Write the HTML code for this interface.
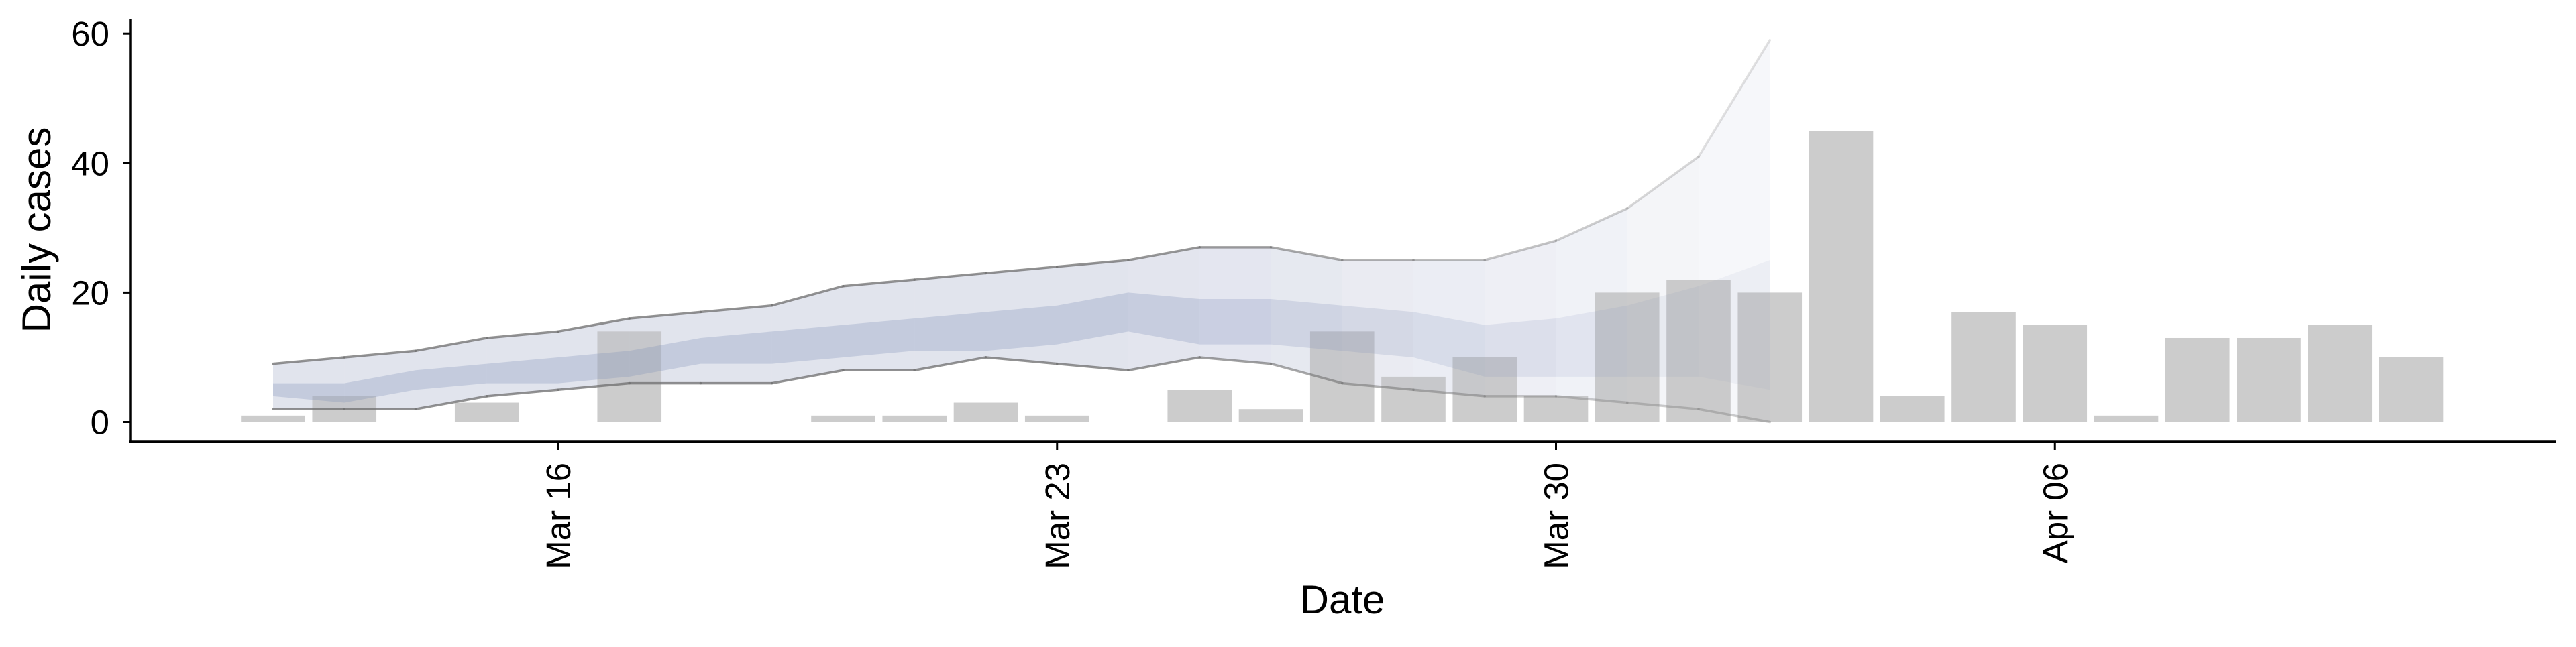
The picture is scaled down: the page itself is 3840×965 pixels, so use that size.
<!DOCTYPE html>
<html><head><meta charset="utf-8"><style>
html,body{margin:0;padding:0;background:#fff;}
svg text{font-family:"Liberation Sans",Arial,sans-serif;fill:#000;}
</style></head><body>
<svg id="chart" width="3840" height="960" viewBox="0 0 3840 960" xmlns="http://www.w3.org/2000/svg">
<g id="bands"></g>
<g id="bars"></g>
<g id="overlay"></g>
<g id="axes"></g>
</svg>
<script>
const barDates = ["Mar 12","Mar 13","Mar 14","Mar 15","Mar 16","Mar 17","Mar 18","Mar 19","Mar 20","Mar 21","Mar 22","Mar 23","Mar 24","Mar 25","Mar 26","Mar 27","Mar 28","Mar 29","Mar 30","Mar 31","Apr 01","Apr 02","Apr 03","Apr 04","Apr 05","Apr 06","Apr 07","Apr 08","Apr 09","Apr 10","Apr 11"];
const dailyCases = [1,4,0,3,0,14,0,0,1,1,3,1,0,5,2,14,7,10,4,20,22,20,45,4,17,15,1,13,13,15,10];
const outerUpper = [9,10,11,13,14,16,17,18,21,22,23,24,25,27,27,25,25,25,28,33,41,59];
const outerLower = [2,2,2,4,5,6,6,6,8,8,10,9,8,10,9,6,5,4,4,3,2,0];
const innerUpper = [6,6,8,9,10,11,13,14,15,16,17,18,20,19,19,18,17,15,16,18,21,25];
const innerLower = [4,3,5,6,6,7,9,9,10,11,11,12,14,12,12,11,10,7,7,7,7,5];
const xTickLabels = ["Mar 16","Mar 23","Mar 30","Apr 06"];
const xTickIdx = [4,11,18,25];
const yTicks = [0,20,40,60];

const NS="http://www.w3.org/2000/svg";
const X0=407, DAY=106.25, Y0=629.5, PXU=9.655;
const xs=i=>X0+i*DAY;
const ys=v=>Y0-v*PXU;
function mk(tag,attrs,parent){const e=document.createElementNS(NS,tag);for(const k in attrs)e.setAttribute(k,attrs[k]);parent.appendChild(e);return e;}
const bands=document.getElementById('bands'),barsG=document.getElementById('bars'),ov=document.getElementById('overlay'),ax=document.getElementById('axes');
const fade=i=>i<=12?1:Math.max(0.2,1-(i-12)*0.085);

for(let i=0;i<outerUpper.length-1;i++){
  const a=fade(i+0.5);
  const p=mk('polygon',{points:`${xs(i)},${ys(outerUpper[i])} ${xs(i+1)},${ys(outerUpper[i+1])} ${xs(i+1)},${ys(outerLower[i+1])} ${xs(i)},${ys(outerLower[i])}`,fill:'#9aa3c4','fill-opacity':0.2*a,stroke:'none'},bands);
  
  
}
dailyCases.forEach((v,i)=>{
  const w=DAY*0.9;
  const r=mk('rect',{x:xs(i)-w/2,y:ys(v),width:w,height:v*PXU,fill:'#cccccc'},barsG);
  
  
});
for(let i=0;i<outerUpper.length-1;i++){
  const a=fade(i+0.5);
  const p=mk('polygon',{points:`${xs(i)},${ys(outerUpper[i])} ${xs(i+1)},${ys(outerUpper[i+1])} ${xs(i+1)},${ys(outerLower[i+1])} ${xs(i)},${ys(outerLower[i])}`,fill:'#9aa3c4','fill-opacity':0.12*a,stroke:'none'},ov);
  
  
  const q=mk('polygon',{points:`${xs(i)},${ys(innerUpper[i])} ${xs(i+1)},${ys(innerUpper[i+1])} ${xs(i+1)},${ys(innerLower[i+1])} ${xs(i)},${ys(innerLower[i])}`,fill:'#8292b9','fill-opacity':0.3*a,stroke:'none'},ov);
  
  
  const l1=mk('line',{x1:xs(i),y1:ys(outerUpper[i]),x2:xs(i+1),y2:ys(outerUpper[i+1]),stroke:'#6e6e6e','stroke-opacity':0.75*a,'stroke-width':3.5,'stroke-linecap':'round'},ov);
  
  
  const l2=mk('line',{x1:xs(i),y1:ys(outerLower[i]),x2:xs(i+1),y2:ys(outerLower[i+1]),stroke:'#6e6e6e','stroke-opacity':0.75*Math.max(a,0.45),'stroke-width':3.5,'stroke-linecap':'round'},ov);
  
  
}
const yl=mk('line',{x1:195,y1:29,x2:195,y2:660,stroke:'#000','stroke-width':3.5},ax);


const xl=mk('line',{x1:193,y1:659,x2:3810,y2:659,stroke:'#000','stroke-width':3.5},ax);


yTicks.forEach(v=>{
  const t=mk('line',{x1:183,y1:ys(v),x2:195,y2:ys(v),stroke:'#000','stroke-width':3},ax);
  
  
  const tx=mk('text',{x:163,y:ys(v)+18,'text-anchor':'end','font-size':51},ax);
  tx.textContent=v;
  
  
});
xTickIdx.forEach((d,k)=>{
  const x=xs(d);
  const t=mk('line',{x1:x,y1:659,x2:x,y2:671,stroke:'#000','stroke-width':3},ax);
  
  
  const tx=mk('text',{x:x+18,y:690,'text-anchor':'end','font-size':51,transform:`rotate(-90 ${x+18} 690)`},ax);
  tx.textContent=xTickLabels[k];
  
  
});
const xt=mk('text',{x:2001,y:915,'text-anchor':'middle','font-size':60},ax);
xt.textContent='Date';


const yt=mk('text',{x:75,y:343,'text-anchor':'middle','font-size':60,transform:'rotate(-90 75 343)'},ax);
yt.textContent='Daily cases';


</script>
</body></html>
